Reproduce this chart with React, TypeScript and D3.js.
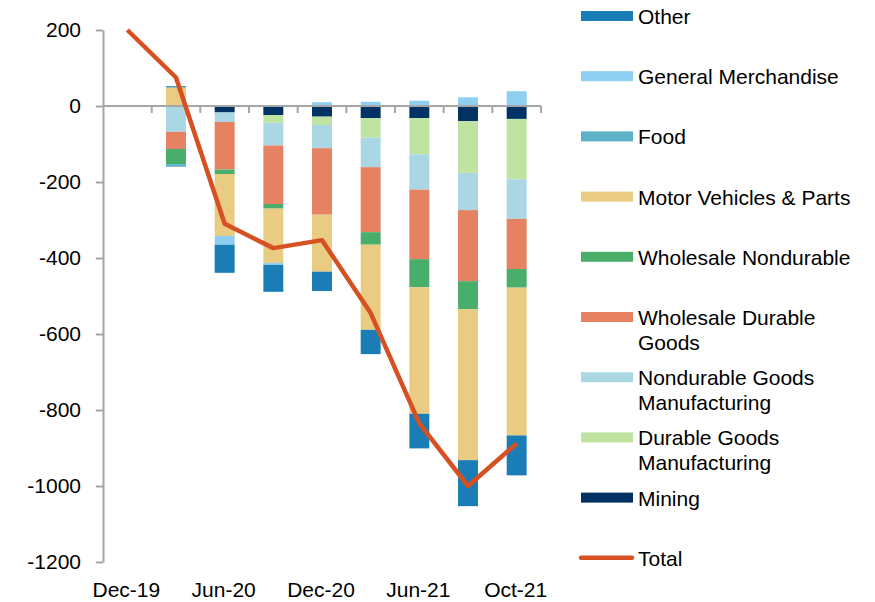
import React, { useEffect, useRef } from 'react'
import * as d3 from 'd3'

// chart values
const categories = ['Dec-19', 'Mar-20', 'Jun-20', 'Sep-20', 'Dec-20', 'Mar-21', 'Jun-21', 'Sep-21', 'Oct-21']
const shownLabels = ['Dec-19', 'Jun-20', 'Dec-20', 'Jun-21', 'Oct-21']

const mining = [0, 0, -17, -24, -28, -32, -32, -40, -34]
const durableMfg = [0, 0, 2, -20, -22, -51, -95, -136, -159]
const nondurableMfg = [0, -68, -25, -60, -61, -78, -93, -98, -104]
const wholesaleDurable = [0, -45, -125, -154, -175, -171, -183, -187, -132]
const wholesaleNondurable = [0, -40, -12, -12, 0, -33, -74, -74, -49]
const motorVehicles = [0, 49, -163, -143, -150, -224, -333, -397, -389]
const food = [0, -7, 0, 0, 0, 0, 0, 0, 0]
const generalMerch = [0, 0, -23, -5, 10, 11, 14, 23, 39]
const other = [0, 3, -74, -71, -51, -64, -91, -121, -105]
const total = [200, 75, -310, -374, -353, -545, -835, -1000, -888]

const yTicks = [200, 0, -200, -400, -600, -800, -1000, -1200]

// stacking order (first key sits next to zero)
const seriesKeys = ['mining', 'durableMfg', 'nondurableMfg', 'wholesaleDurable', 'wholesaleNondurable', 'motorVehicles', 'food', 'generalMerch', 'other']
const seriesValues: Record<string, number[]> = { mining, durableMfg, nondurableMfg, wholesaleDurable, wholesaleNondurable, motorVehicles, food, generalMerch, other }
const seriesColors: Record<string, string> = {
	mining: '#003364',
	durableMfg: '#bfe3a0',
	nondurableMfg: '#aad7e3',
	wholesaleDurable: '#e68262',
	wholesaleNondurable: '#4aae6b',
	motorVehicles: '#e9cb81',
	food: '#5cb3c9',
	generalMerch: '#8fd0f2',
	other: '#1a7db5',
}
const totalColor = '#d65022'

// legend, top to bottom
const legendItems = [
	{ key: 'other', lines: ['Other'] },
	{ key: 'generalMerch', lines: ['General Merchandise'] },
	{ key: 'food', lines: ['Food'] },
	{ key: 'motorVehicles', lines: ['Motor Vehicles & Parts'] },
	{ key: 'wholesaleNondurable', lines: ['Wholesale Nondurable'] },
	{ key: 'wholesaleDurable', lines: ['Wholesale Durable', 'Goods'] },
	{ key: 'nondurableMfg', lines: ['Nondurable Goods', 'Manufacturing'] },
	{ key: 'durableMfg', lines: ['Durable Goods', 'Manufacturing'] },
	{ key: 'mining', lines: ['Mining'] },
	{ key: 'total', lines: ['Total'] },
]

const width = 875
const height = 602
const axisColor = '#a6a6a6'
const font = '"Liberation Sans", Arial, sans-serif'
const axisFontSize = 21
const legendFontSize = 21

export default function App() {
	const svgRef = useRef<SVGSVGElement>(null)

	useEffect(() => {
		const svg = d3.select(svgRef.current)
		svg.selectAll('*').remove()

		const x = d3.scaleBand<string>()
			.domain(categories)
			.range([103, 541])
			.paddingInner(0.59)
			.paddingOuter(0.295)
		const y = d3.scaleLinear().domain([-1200, 200]).range([562, 30])

		const table = categories.map((c, i) => {
			const row: any = { category: c }
			seriesKeys.forEach(k => { row[k] = seriesValues[k][i] })
			return row
		})
		const stacked = d3.stack<any>().keys(seriesKeys).offset(d3.stackOffsetDiverging)(table)

		// bars
		const bars = svg.append('g').attr('class', 'bars')
		stacked.forEach(layer => {
			bars.append('g')
				.attr('fill', seriesColors[layer.key])
				.selectAll('rect')
				.data(layer)
				.join('rect')
				.attr('x', d => x(d.data.category)!)
				.attr('width', x.bandwidth())
				.attr('y', d => y(Math.max(d[0], d[1])))
				.attr('height', d => Math.abs(y(d[0]) - y(d[1])))
		})

		// y axis
		const yAxis = svg.append('g')
			.attr('transform', 'translate(103,0)')
			.call(d3.axisLeft(y).tickValues(yTicks).tickSize(7).tickSizeOuter(0).tickPadding(15).tickFormat(d => String(d)))
		yAxis.select('.domain').attr('stroke', axisColor).attr('stroke-width', 2)
		yAxis.selectAll('.tick line').attr('stroke', axisColor).attr('stroke-width', 2)
		yAxis.selectAll('.tick text')
			.attr('fill', '#000')
			.style('font-family', font)
			.style('font-size', axisFontSize + 'px')

		// x axis on the zero line
		const y0 = y(0)
		const xAxis = svg.append('g')
		xAxis.append('line')
			.attr('x1', 103).attr('x2', 541)
			.attr('y1', y0).attr('y2', y0)
			.attr('stroke', axisColor).attr('stroke-width', 2)
		const step = x.step()
		xAxis.selectAll('line.tick')
			.data(d3.range(1, categories.length + 1))
			.join('line')
			.attr('class', 'tick')
			.attr('x1', i => 103 + i * step).attr('x2', i => 103 + i * step)
			.attr('y1', y0).attr('y2', y0 + 7)
			.attr('stroke', axisColor).attr('stroke-width', 2)

		svg.append('g')
			.selectAll('text')
			.data(shownLabels)
			.join('text')
			.attr('x', d => x(d)! + x.bandwidth() / 2 - 1)
			.attr('y', 597)
			.attr('text-anchor', 'middle')
			.style('font-family', font)
			.style('font-size', axisFontSize + 'px')
			.text(d => d)

		// total line
		const line = d3.line<number>()
			.x((d, i) => x(categories[i])! + x.bandwidth() / 2)
			.y(d => y(d))
		svg.append('path')
			.datum(total)
			.attr('d', line)
			.attr('fill', 'none')
			.attr('stroke', totalColor)
			.attr('stroke-width', 4.5)
			.attr('stroke-linejoin', 'round')

		// legend
		const legend = svg.append('g').attr('class', 'legend')
		legendItems.forEach((item, i) => {
			const cy = 16 + i * 60.2
			if (item.key === 'total') {
				legend.append('line')
					.attr('x1', 581).attr('x2', 632)
					.attr('y1', cy).attr('y2', cy)
					.attr('stroke', totalColor)
					.attr('stroke-width', 4.5)
					.attr('stroke-linecap', 'round')
			} else {
				legend.append('rect')
					.attr('x', 581).attr('y', cy - 5)
					.attr('width', 52).attr('height', 10)
					.attr('fill', seriesColors[item.key])
			}
			item.lines.forEach((t, j) => {
				legend.append('text')
					.attr('x', 638)
					.attr('y', cy + 8 + j * 25)
					.style('font-family', font)
					.style('font-size', legendFontSize + 'px')
					.text(t)
			})
		})
	}, [])

	return (
		<svg ref={svgRef} width={width} height={height}
			style={{ position: 'absolute', left: 0, top: 0, background: 'white' }} />
	)
}
